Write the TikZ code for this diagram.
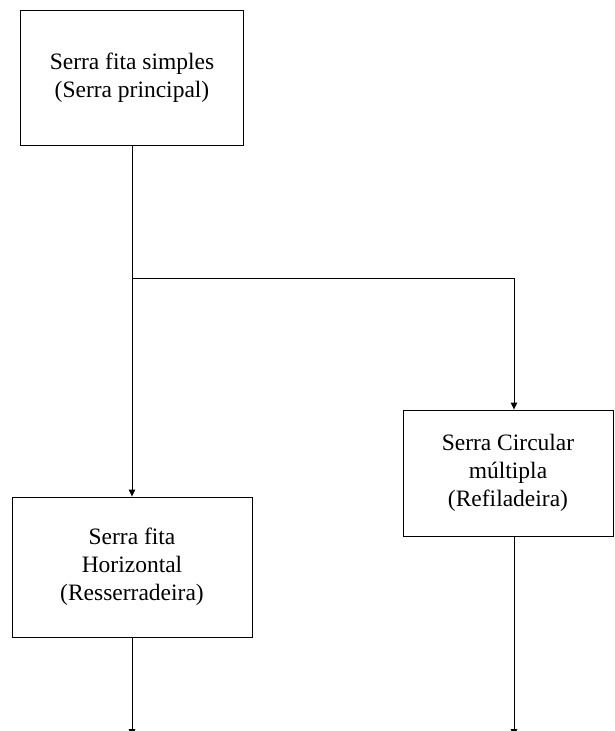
\documentclass[tikz,border=0pt]{standalone}
\usepackage{fontspec}
\setmainfont{Liberation Serif}
\usetikzlibrary{arrows.meta}

\tikzset{
  sawbox/.style={draw, line width=0.9pt, align=center, inner sep=0pt,
    font=\fontsize{23.5}{28}\selectfont},
  flow/.style={line width=0.9pt},
  flowarr/.style={line width=0.9pt, -{Triangle[length=7pt,width=6.5pt]}}
}

\begin{document}
\begin{tikzpicture}[x=1pt,y=1pt,yscale=-1,xscale=1]
\useasboundingbox (0,0) rectangle (615,731);
\clip (0,0) rectangle (615,731);
%Boxes
\node[sawbox, minimum width=223pt, minimum height=135pt] (principal) at (132,77.5) {Serra fita simples\\(Serra principal)};
\node[sawbox, minimum width=240pt, minimum height=140pt] (resserra) at (132,567) {Serra fita\\Horizontal\\(Resserradeira)};
\node[sawbox, minimum width=210pt, minimum height=126pt] (refila) at (508,473) {Serra Circular\\múltipla\\(Refiladeira)};
%Junctions and outgoing ends
\coordinate (jl) at (132,278);
\coordinate (jr) at (514,278);
\coordinate (outl) at (132,736);
\coordinate (outr) at (514,736);
%Connectors
\draw[flow] (principal.south) -- (jl);
\draw[flowarr] (jl) -- (resserra.north);
\draw[flowarr] (jl) -- (jr) -- (jr |- refila.north);
\draw[flowarr] (resserra.south) -- (outl);
\draw[flowarr] (refila.south -| outr) -- (outr);
\end{tikzpicture}
\end{document}
